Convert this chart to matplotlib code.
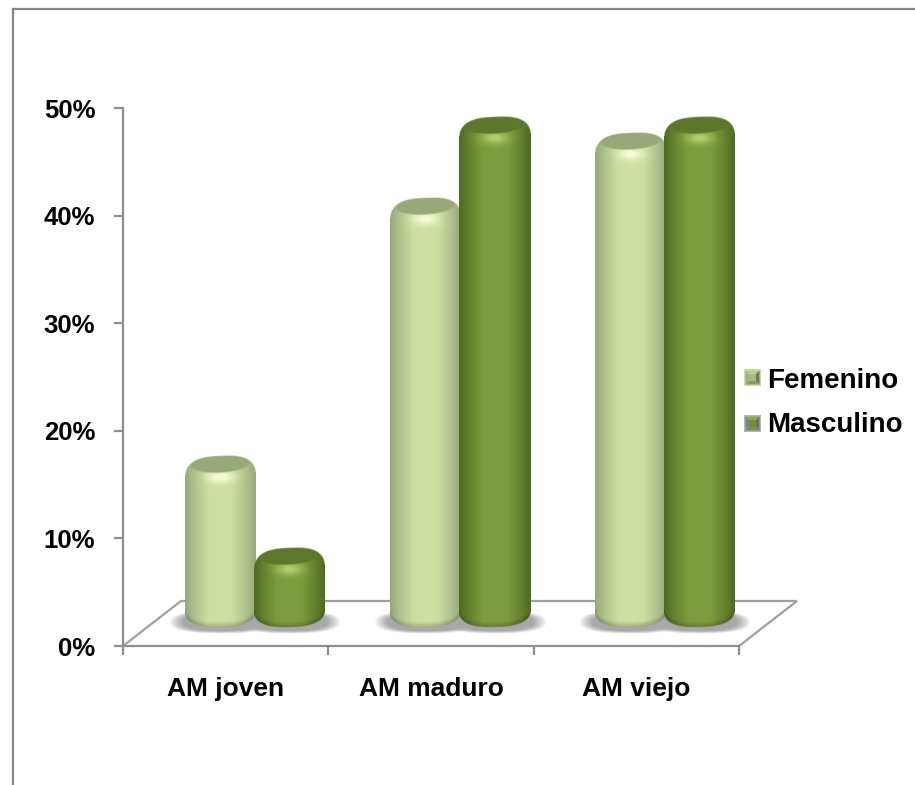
"""Cylinder-style grouped bars of age group by sex, with a floor in oblique projection."""

import numpy as np
import matplotlib

matplotlib.use("Agg")
import matplotlib.pyplot as plt
from matplotlib.colors import to_rgb
from matplotlib.lines import Line2D
from matplotlib.patches import Polygon, Rectangle

plt.rcParams["font.family"] = ["Liberation Sans", "DejaVu Sans"]

categories = ["AM joven", "AM maduro", "AM viejo"]
series_names = ["Femenino", "Masculino"]
femenino = [13.5, 37.5, 43.5]
masculino = [5.0, 45.0, 45.0]
y_ticks = [0, 10, 20, 30, 40, 50]

PALETTES = {
    "Femenino": dict(center="#cfe0a3", edge="#98a77a", cap="#98a878", glow="#f8fdd8"),
    "Masculino": dict(center="#7f9c40", edge="#4f691f", cap="#5e772c", glow="#b2d06c"),
}
# outline, top, left, right, bottom, centre of each legend key
SWATCHES = {
    "Femenino": ["#cbdda6", "#b9cc92", "#a3af84", "#6f7a50", "#8c9a68", "#a8bc78"],
    "Masculino": ["#b4b4b4", "#8aa850", "#858585", "#6e6e6e", "#7c8a5c", "#6f8f30"],
}

FIG_W, FIG_H = 915, 785
AX_LEFT, AX_RIGHT, AX_TOP, AX_BOTTOM = 123, 739, 108, 646
GREY = "#8f8f8f"

# size of one pixel in data units
PX_X = len(categories) / (AX_RIGHT - AX_LEFT)
PX_Y = y_ticks[-1] / (AX_BOTTOM - AX_TOP)

BAR_W = 71
BAR_GAP = 69
DEPTH_X, DEPTH_Y = 58, 45


def fig_xy(px, py):
    """Pixel position, measured from the top left, as figure fraction."""
    return px / FIG_W, 1 - py / FIG_H


def corner_curve(u, power):
    """Rise of a superellipse from its middle (0) to its side (1)."""
    return 1 - (1 - np.clip(np.abs(u), 0, 1) ** power) ** (1 / power)


def bar_image(height, palette, width=BAR_W, scale=2):
    """Shade one rounded cylinder as an RGBA array."""
    nx, ny = int(width * scale), int(height * scale)
    xs = (np.arange(nx) + 0.5) / nx * 2 - 1
    ts = (np.arange(ny) + 0.5) / scale
    u, t = np.meshgrid(xs, ts)

    tilt = 1.5
    y_top = 24 * corner_curve(u, 2.9) - tilt * u + tilt
    y_bot = height - 18 * corner_curve(u, 2.6) - tilt * u * 0.6 - tilt * 0.6

    # Horizontal falloff from the centre line to both edges
    shade = np.interp(np.abs(u), [0, 0.35, 0.75, 1], [1, 0.95, 0.42, 0])[..., None]
    center, edge = np.array(to_rgb(palette["center"])), np.array(to_rgb(palette["edge"]))
    rgb = edge + (center - edge) * shade

    # Thin darker band along the lower rim
    rim = np.clip((y_bot - t) / 6, 0, 1)[..., None]
    rgb = rgb * (0.78 + 0.22 * rim)

    # Soft highlight just under the cap
    glow_color = np.array(to_rgb(palette["glow"]))
    glow = np.exp(-(u / 0.36) ** 2 - ((t - 23) / 6) ** 2)[..., None]
    rgb = rgb + (glow_color - rgb) * glow

    # Flat tilted top face
    r = np.sqrt((u / 0.9) ** 2 + ((t - 9.5 + tilt * 1.3 * u) / 9.5) ** 2)
    cap = np.clip((1 - r) * 8, 0, 1)[..., None]
    rgb = rgb + (np.array(to_rgb(palette["cap"])) - rgb) * cap

    alpha = np.clip((t - y_top) * 1.5, 0, 1) * np.clip((y_bot - t) * 1.5, 0, 1)
    return np.dstack([np.clip(rgb, 0, 1), alpha])


def shadow_image(nx=100, ny=44):
    """Blurred grey rounded blob that sits on the floor under a bar."""
    u, v = np.meshgrid(np.linspace(-1, 1, nx), np.linspace(-1, 1, ny))
    alpha = np.clip((1 - np.abs(u) ** 2.4 - np.abs(v) ** 2.6) * 1.9, 0, 1)
    rgba = np.zeros((ny, nx, 4))
    rgba[..., :3] = to_rgb("#a8a8a8")
    rgba[..., 3] = alpha
    return rgba


def draw_bar(ax, x_center, value, palette, zorder):
    """Draw a cylinder whose top sits at value, lifted by half the floor depth."""
    bottom = (AX_BOTTOM - 628) * PX_Y
    top = value + 32 * PX_Y + 14 * PX_Y
    height = (top - bottom) / PX_Y
    half = BAR_W / 2 * PX_X

    ax.imshow(
        shadow_image(),
        extent=(x_center - half - 16 * PX_X, x_center + half + 16 * PX_X,
                (AX_BOTTOM - 634) * PX_Y, (AX_BOTTOM - 610) * PX_Y),
        aspect="auto", zorder=2, clip_on=False,
    )
    ax.imshow(
        bar_image(height, palette),
        extent=(x_center - half, x_center + half, bottom, top),
        aspect="auto", zorder=zorder, clip_on=False, interpolation="bilinear",
    )


def draw_swatch(fig, x0, y0, size, colors):
    """Small bevelled legend key: outline, four sloped faces and a centre."""
    outline, top, left, right, low, middle = colors
    ox, oy = fig_xy(x0, y0 + size)
    fig.add_artist(Rectangle((ox, oy), size / FIG_W, size / FIG_H, facecolor=outline,
                             edgecolor="none", transform=fig.transFigure))
    x0, y0, x1, y1 = x0 + 1.5, y0 + 1.5, x0 + size - 1.5, y0 + size - 1.5
    mid_x, mid_y = (x0 + x1) / 2, (y0 + y1) / 2
    inset = (x1 - x0) * 0.24
    faces = [
        ([(x0, y0), (x1, y0), (mid_x, mid_y)], top),
        ([(x0, y0), (x0, y1), (mid_x, mid_y)], left),
        ([(x1, y0), (x1, y1), (mid_x, mid_y)], right),
        ([(x0, y1), (x1, y1), (mid_x, mid_y)], low),
        ([(x0 + inset, y0 + inset), (x1 - inset, y0 + inset),
          (x1 - inset, y1 - inset), (x0 + inset, y1 - inset)], middle),
    ]
    for points, color in faces:
        fig.add_artist(Polygon([fig_xy(*p) for p in points], closed=True,
                               facecolor=color, edgecolor="none",
                               transform=fig.transFigure))


fig = plt.figure(figsize=(FIG_W / 100, FIG_H / 100), dpi=100)
ax = fig.add_axes([
    AX_LEFT / FIG_W, 1 - AX_BOTTOM / FIG_H,
    (AX_RIGHT - AX_LEFT) / FIG_W, (AX_BOTTOM - AX_TOP) / FIG_H,
])
ax.patch.set_visible(False)

# Outer chart border, open on the right and at the bottom
border = dict(color="#868686", linewidth=1.6, transform=fig.transFigure)
fig.add_artist(Line2D(*zip(fig_xy(13, 9), fig_xy(13, FIG_H)), **border))
fig.add_artist(Line2D(*zip(fig_xy(13, 9), fig_xy(FIG_W, 9)), **border))

# Floor drawn as an open parallelogram behind the bars
n_cat = len(categories)
dx, dy = DEPTH_X * PX_X, DEPTH_Y * PX_Y
ax.plot([0, dx, n_cat + dx, n_cat], [0, dy, dy, 0], color="#a0a0a0",
        linewidth=1.6, clip_on=False, zorder=1, solid_joinstyle="miter")

for i, (f_value, m_value) in enumerate(zip(femenino, masculino)):
    center = i + 0.5 + DEPTH_X / 2 * PX_X
    offset = BAR_GAP / 2 * PX_X
    draw_bar(ax, center - offset, f_value, PALETTES["Femenino"], zorder=3)
    draw_bar(ax, center + offset, m_value, PALETTES["Masculino"], zorder=4)

ax.set_xlim(0, n_cat)
ax.set_ylim(y_ticks[0], y_ticks[-1])

ax.set_yticks(y_ticks)
ax.set_yticklabels([f"{t}%" for t in y_ticks], fontsize=18.5, fontweight="bold")
ax.set_xticks(range(n_cat + 1))
ax.set_xticklabels([])
ax.set_xticks([i + 0.5 for i in range(n_cat)], minor=True)
ax.set_xticklabels(categories, minor=True, fontsize=19, fontweight="bold")

ax.tick_params(axis="y", length=6.5, width=1.6, color=GREY, pad=13.5)
ax.tick_params(axis="x", which="major", length=6.5, width=1.6, color=GREY)
ax.tick_params(axis="x", which="minor", length=0, pad=22)
for side in ("top", "right"):
    ax.spines[side].set_visible(False)
for side in ("left", "bottom"):
    ax.spines[side].set_color(GREY)
    ax.spines[side].set_linewidth(1.6)

# Legend to the right of the plot
for name, swatch_y, text_y in zip(series_names, [369, 415], [380.5, 425.5]):
    draw_swatch(fig, 744, swatch_y, 17, SWATCHES[name])
    fx, fy = fig_xy(767, text_y)
    fig.text(fx, fy, name, fontsize=20, fontweight="bold", va="center", ha="left")

fig.savefig("out.png", dpi=100)
